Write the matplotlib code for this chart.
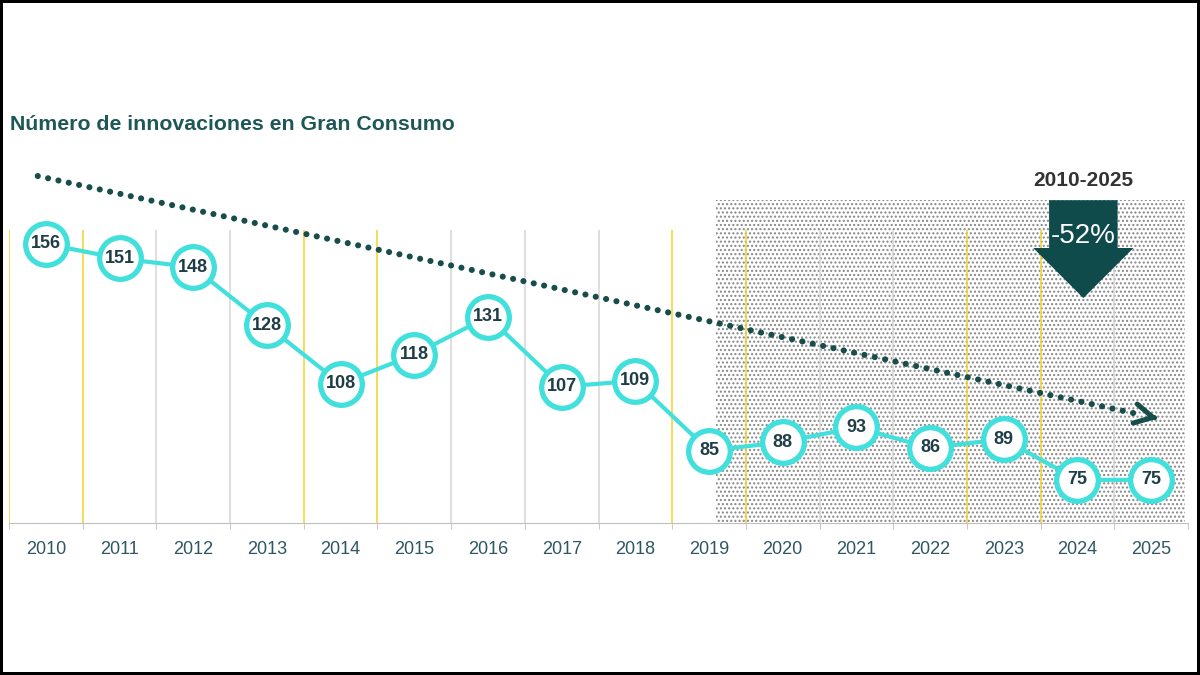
import matplotlib.pyplot as plt
from matplotlib.patches import Rectangle, FancyArrow

plt.rcParams['font.family'] = ['Liberation Sans', 'DejaVu Sans']
plt.rcParams['hatch.color'] = '#868686'
plt.rcParams['hatch.linewidth'] = 1.0

years = ['2010', '2011', '2012', '2013', '2014', '2015', '2016', '2017',
         '2018', '2019', '2020', '2021', '2022', '2023', '2024', '2025']
innovaciones = [156, 151, 148, 128, 108, 118, 131, 107, 109, 85, 88, 93, 86, 89, 75, 75]

# separadores amarillos / grises entre años
amarillos = [0, 1, 4, 5, 9, 10, 13, 14]

trend_start = 179.3
trend_end = 95.9

cyan = '#42e0dc'
oscuro = '#0f4b4b'

fig = plt.figure(figsize=(12, 6.75), dpi=100, linewidth=3, edgecolor='black')
ax = fig.add_axes([9 / 1200, 152 / 675, 1179 / 1200, 363 / 675])

x = list(range(len(years)))
ymin, ymax = 60.2, 184.8
ax.set_xlim(-0.5, len(years) - 0.5)
ax.set_ylim(ymin, ymax)

# zona sombreada con puntitos (2019-2025)
ax.add_patch(Rectangle((9.1, ymin), 6.36, 171.1 - ymin, facecolor='white',
                       edgecolor='#868686', linewidth=0, hatch='....', zorder=0))

# separadores verticales
for k in range(len(years)):
    color = '#f2d22a' if k in amarillos else '#d6d6d6'
    ax.vlines(k - 0.5, ymin, 160.8, color=color, lw=1.1, zorder=1)

# línea de tendencia punteada
ax.plot([-0.11, 14.84], [trend_start, trend_start + (trend_end - trend_start) * 14.95 / 15.24],
        color='#174d4b', lw=4.4, linestyle=(0, (0.01, 1.72)), dash_capstyle='round', zorder=2)
ax.annotate('', xy=(15.13, trend_end), xytext=(15.0, trend_end + 0.7),
            arrowprops=dict(arrowstyle='->,head_length=1.3,head_width=0.7',
                            lw=3.6, color='#174d4b'), zorder=2)

# serie principal
ax.plot(x, innovaciones, color=cyan, lw=3, marker='o', ms=30, mew=3.8,
        mfc='white', mec=cyan, zorder=3)
for xi, v in zip(x, innovaciones):
    ax.text(xi, v, str(v), ha='center', va='center', fontsize=13,
            fontweight='bold', color='#1e3d47', zorder=4)

# flecha de variación
var = round((innovaciones[-1] - innovaciones[0]) / innovaciones[0] * 100)
ax.add_patch(FancyArrow(14.08, 171.0, 0, -33.6, width=0.93, head_width=1.36,
                        head_length=17.2, length_includes_head=True,
                        color=oscuro, lw=0, zorder=5, clip_on=False))
ax.text(14.08, 158.8, f'{var}%', ha='center', va='center', fontsize=20,
        color='white', zorder=6)
ax.text(14.08, 177.6, f'{years[0]}-{years[-1]}', ha='center', va='center',
        fontsize=15, fontweight='bold', color='#333333')

# ejes
for s in ['top', 'right', 'left']:
    ax.spines[s].set_visible(False)
ax.spines['bottom'].set_color('#bfbfbf')
ax.set_yticks([])
ax.set_xticks(x)
ax.set_xticklabels(years, fontsize=13, color='#2f5663')
ax.tick_params(axis='x', which='major', length=0, pad=13)
ax.set_xticks([k - 0.5 for k in range(len(years) + 1)], minor=True)
ax.tick_params(axis='x', which='minor', length=4, color='#bfbfbf')

fig.text(10 / 1200, 1 - 125 / 675, 'Número de innovaciones en Gran Consumo',
         ha='left', va='center', fontsize=15.3, fontweight='bold', color='#1d5757')

fig.savefig('out.png', dpi=100, edgecolor=fig.get_edgecolor())
